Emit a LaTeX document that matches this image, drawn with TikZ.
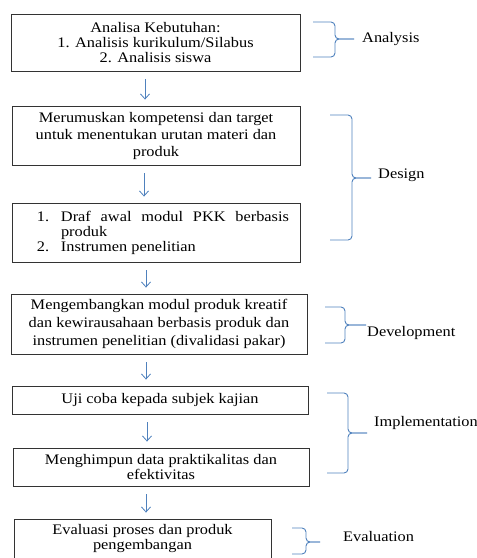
\documentclass[tikz,border=0pt]{standalone}
\usepackage{fontspec}
\setmainfont{Liberation Serif}[FakeStretch=1.12]
\usetikzlibrary{arrows.meta}
\definecolor{wordblue}{RGB}{79,129,189}
% left x, brace x, top y, middle y, bottom y, tip x
\newcommand{\phase}[6]{%
  \draw[brace] (#1,#3) -- (#2,#3) -- (#2,#4) -- (#6,#4);
  \draw[brace] (#1,#5) -- (#2,#5) -- (#2,#4) -- (#6,#4);}

\tikzset{
  stage/.style={draw=black!80, line width=0.9pt, inner sep=0pt, align=center,
    font=\fontsize{14.6}{15}\selectfont},
  flow/.style={draw=wordblue, line width=0.8pt, -{Straight Barb[length=5pt,width=9pt]},
    shorten <=8pt, shorten >=6pt},
  brace/.style={draw=wordblue, line width=0.9pt, rounded corners=4pt},
  phaselabel/.style={anchor=west, inner sep=0pt, font=\fontsize{14.6}{15}\selectfont}
}

\begin{document}
\begin{tikzpicture}[x=1pt, y=-1pt]
    \useasboundingbox (0,0) rectangle (477,558);
    % stages
    \node[stage, minimum width=289pt, minimum height=57pt] (analisa) at (155.5,42.5)
        {Analisa Kebutuhan:\\1. Analisis kurikulum/Silabus\\2. Analisis siswa};
    \node[stage, minimum width=288pt, minimum height=59pt, font=\fontsize{14.6}{17}\selectfont] (rumusan) at (156,135.5)
        {Merumuskan kompetensi dan target\\untuk menentukan urutan materi dan\\produk};
    \node[stage, minimum width=288pt, minimum height=59pt] (draf) at (156,232.5)
        {\hspace{14pt}\parbox{252pt}{\hangindent=24pt \hangafter=1
         \makebox[24pt][l]{1.}Draf awal modul PKK berbasis produk\par
         \makebox[24pt][l]{2.}Instrumen penelitian}};
    \node[stage, minimum width=296pt, minimum height=60pt, font=\fontsize{14.6}{18}\selectfont] (kembang) at (159,324)
        {Mengembangkan modul produk kreatif\\dan kewirausahaan berbasis produk dan\\instrumen penelitian (divalidasi pakar)};
    \node[stage, minimum width=296pt, minimum height=28pt] (uji) at (160,400)
        {Uji coba kepada subjek kajian};
    \node[stage, minimum width=296pt, minimum height=38pt] (himpun) at (161,467)
        {Menghimpun data praktikalitas dan\\efektivitas};
    \node[stage, minimum width=257pt, minimum height=40pt] (evaluasi) at (142.5,539)
        {Evaluasi proses dan produk\\pengembangan};
    % arrows
    \foreach \a/\b/\dx in {analisa/rumusan/-10.5, rumusan/draf/-12, draf/kembang/-10,
                           kembang/uji/-13, uji/himpun/-13, himpun/evaluasi/-15}{
        \coordinate (s) at ([xshift=\dx pt]\a.south);
        \draw[flow] (s) -- (s |- \b.north);
    }
    % phases
    \phase{313}{335}{22}{39}{57}{354}
    \node[phaselabel] (analysis) at (362,39) {Analysis};
    \phase{330}{352}{115}{178}{240}{371}
    \node[phaselabel] (design) at (378,175) {Design};
    \phase{325}{345}{307}{325}{343}{366}
    \node[phaselabel] (development) at (367,333) {Development};
    \phase{327}{348}{393}{433}{473}{367}
    \node[phaselabel] (implementation) at (374,423) {Implementation};
    \phase{292}{306}{528}{542}{554}{320}
    \node[phaselabel] (evaluation) at (343,536) {Evaluation};
\end{tikzpicture}
\end{document}
